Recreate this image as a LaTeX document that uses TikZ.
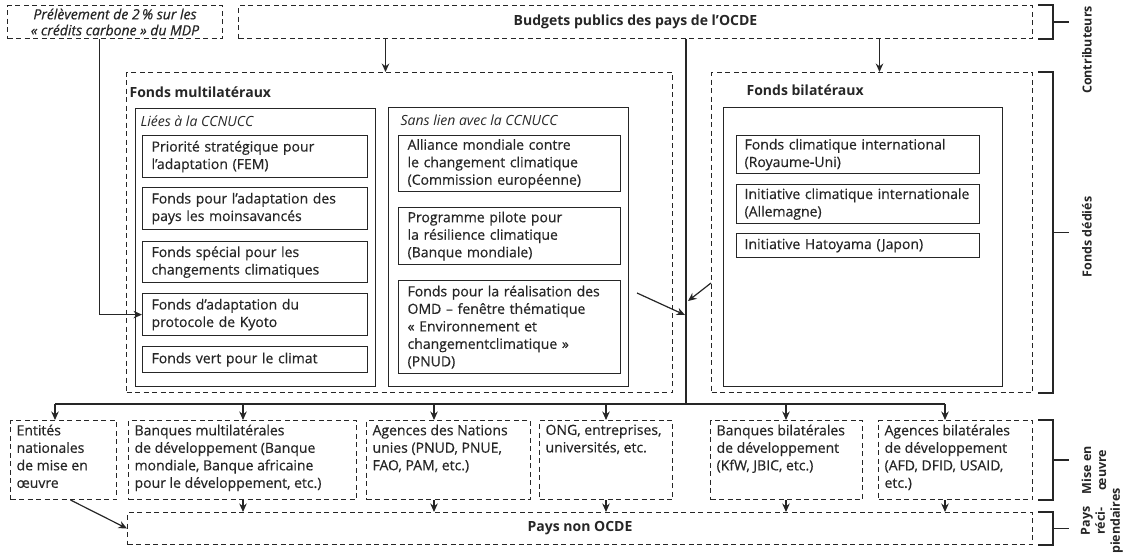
\documentclass[tikz,border=0pt]{standalone}
\usepackage{fontspec}
\setmainfont{Open Sans}
\newfontfamily\boxfont{Open Sans}[FakeBold=0.5]
\usetikzlibrary{arrows.meta}
\definecolor{ink}{HTML}{262626}

\begin{document}
\begin{tikzpicture}[x=1pt,y=-1pt,>={Stealth[length=8.5pt,width=7.5pt]},line width=1.2pt,color=ink,
  every node/.style={font=\boxfont\fontsize{14}{17.5}\selectfont},
  fund/.style={draw,anchor=north west,align=left,inner xsep=9pt,inner ysep=0pt},
  frame/.style={draw,anchor=north west,inner sep=0pt},
  dashbox/.style={frame,line width=1pt,dash pattern=on 5pt off 3.5pt},
  title/.style={anchor=west,inner sep=0pt,font=\fontsize{14}{17.5}\selectfont\bfseries},
  sub/.style={anchor=west,inner sep=0pt,font=\fontsize{14}{17.5}\selectfont\itshape},
  body/.style={anchor=north west,align=left,inner xsep=6pt,inner ysep=4pt},
  side/.style={rotate=90,align=center,inner sep=0pt,font=\fontsize{12.5}{15}\selectfont\bfseries}]
  \useasboundingbox (0,0) rectangle (1129,555);

  % contributeurs
  \node[dashbox,minimum width=215pt,minimum height=33pt,align=center,font=\boxfont\fontsize{14}{16}\selectfont\itshape] (mdp) at (7,5)
    {Prélèvement de 2\,\% sur les\\«~crédits carbone~» du MDP};
  \node[dashbox,minimum width=794pt,minimum height=33pt,font=\fontsize{14}{17.5}\selectfont\bfseries] (budgets) at (238,5)
    {Budgets publics des pays de l’OCDE};

  % fonds multilateraux
  \node[dashbox,minimum width=546pt,minimum height=320pt] (multi) at (126,72) {};
  \node[title] (multi-t) at (129,92) {Fonds multilatéraux};
  \node[frame,minimum width=240pt,minimum height=278pt] (liees) at (135,108) {};
  \node[sub] (liees-t) at (140,121) {Liées à la CCNUCC};
  \node[fund,text width=207pt,minimum height=42pt] (l1) at (142,135) {Priorité stratégique pour\\l’adaptation (FEM)};
  \node[fund,text width=207pt,minimum height=42pt] (l2) at (142,187) {Fonds pour l’adaptation des\\pays les moinsavancés};
  \node[fund,text width=207pt,minimum height=41pt] (l3) at (142,241) {Fonds spécial pour les\\changements climatiques};
  \node[fund,text width=207pt,minimum height=42pt] (l4) at (142,293) {Fonds d’adaptation du\\protocole de Kyoto};
  \node[fund,text width=207pt,minimum height=26pt] (l5) at (142,346) {Fonds vert pour le climat};
  \node[frame,minimum width=240pt,minimum height=279pt] (sans) at (388,107) {};
  \node[sub] (sans-t) at (400,120) {Sans lien avec la CCNUCC};
  \node[fund,text width=204pt,minimum height=56pt] (s1) at (398,135) {Alliance mondiale contre\\le changement climatique\\(Commission européenne)};
  \node[fund,text width=204pt,minimum height=57pt] (s2) at (398,207) {Programme pilote pour\\la résilience climatique\\(Banque mondiale)};
  \node[fund,text width=204pt,minimum height=93pt] (s3) at (398,280) {Fonds pour la réalisation des\\OMD – fenêtre thématique\\«~Environnement et\\changementclimatique~»\\(PNUD)};

  % fonds bilateraux
  \node[dashbox,minimum width=321pt,minimum height=320pt] (bil) at (711,72) {};
  \node[title] (bil-t) at (746,90) {Fonds bilatéraux};
  \node[frame,minimum width=279pt,minimum height=279pt] (bilin) at (723,107) {};
  \node[fund,inner xsep=8pt,text width=227pt,minimum height=38pt] (b1) at (736,135) {Fonds climatique international\\(Royaume-Uni)};
  \node[fund,inner xsep=8pt,text width=227pt,minimum height=39pt] (b2) at (736,184) {Initiative climatique internationale\\(Allemagne)};
  \node[fund,inner xsep=8pt,text width=227pt,minimum height=24pt] (b3) at (736,233) {Initiative Hatoyama (Japon)};

  % mise en oeuvre
  \node[dashbox,minimum width=106pt,minimum height=79pt] (ent) at (10,420) {};
  \node[body] (ent-t) at (ent.north west) {Entités\\nationales\\de mise en\\œuvre};
  \node[dashbox,minimum width=228pt,minimum height=79pt] (bmd) at (128,420) {};
  \node[body] (bmd-t) at (bmd.north west) {Banques multilatérales\\de développement (Banque\\mondiale, Banque africaine\\pour le développement, etc.)};
  \node[dashbox,minimum width=164pt,minimum height=79pt] (anu) at (366,420) {};
  \node[body] (anu-t) at (anu.north west) {Agences des Nations\\unies (PNUD, PNUE,\\FAO, PAM, etc.)};
  \node[dashbox,minimum width=133pt,minimum height=79pt] (ong) at (539,420) {};
  \node[body] (ong-t) at (ong.north west) {ONG, entreprises,\\universités, etc.};
  \node[dashbox,minimum width=152pt,minimum height=79pt] (bbd) at (710,420) {};
  \node[body] (bbd-t) at (bbd.north west) {Banques bilatérales\\de développement\\(KfW, JBIC, etc.)};
  \node[dashbox,minimum width=154pt,minimum height=79pt] (abd) at (878,420) {};
  \node[body] (abd-t) at (abd.north west) {Agences bilatérales\\de développement\\(AFD, DFID, USAID,\\etc.)};
  \node[dashbox,minimum width=905pt,minimum height=32pt,font=\fontsize{14}{17.5}\selectfont\bfseries] (pays) at (127,512) {Pays non OCDE};

  % flux
  \coordinate (trunk) at (686,404);
  \coordinate (c1) at (55,404);
  \coordinate (c2) at (243,404);
  \coordinate (c3) at (434,404);
  \coordinate (c4) at (606,404);
  \coordinate (c5) at (786,404);
  \coordinate (c6) at (945,404);
  \coordinate (m-top) at ([xshift=-14pt]multi.north);
  \coordinate (b-top) at ([xshift=7.5pt]bil.north);
  \coordinate (mdp-out) at ([xshift=-15.5pt]mdp.south);
  \coordinate (s-out) at (637,293);
  \coordinate (t-in1) at (685,315);
  \coordinate (b-out) at (711,283);
  \coordinate (t-in2) at (688,301);

  \draw (budgets.south -| trunk) -- (trunk);
  \draw (c1) -- (c6);
  \draw[->] (budgets.south -| m-top) -- (m-top);
  \draw[->] (budgets.south -| b-top) -- (b-top);
  \draw[->] (mdp-out) |- (l4.west);
  \draw[->] (s-out) -- (t-in1);
  \draw[->] (b-out) -- (t-in2);
  \draw[->] (c1) -- (c1 |- ent.north);
  \draw[->] (c2) -- (c2 |- bmd.north);
  \draw[->] (c3) -- (c3 |- anu.north);
  \draw[->] (c4) -- (c4 |- ong.north);
  \draw[->] (c5) -- (c5 |- bbd.north);
  \draw[->] (c6) -- (c6 |- abd.north);
  \draw[->] (c2 |- bmd.south) -- (c2 |- pays.north);
  \draw[->] (c3 |- anu.south) -- (c3 |- pays.north);
  \draw[->] (c4 |- ong.south) -- (c4 |- pays.north);
  \draw[->] (c5 |- bbd.south) -- (c5 |- pays.north);
  \draw[->] (c6 |- abd.south) -- (c6 |- pays.north);
  \draw[->] ([xshift=7pt]ent.south) -- (pays.west);

  % accolades
  \draw ([xshift=5pt]budgets.north east) -| ([xshift=20pt]budgets.south east) -- ([xshift=5pt]budgets.south east);
  \draw ([xshift=20pt]budgets.east) -- ++(16,0);
  \draw ([xshift=5pt]bil.north east) -| ([xshift=20pt]bil.south east) -- ([xshift=5pt]bil.south east);
  \draw ([xshift=20pt]bil.east) -- ++(16,0);
  \draw ([xshift=5pt]abd.north east) -| ([xshift=20pt]abd.south east) -- ([xshift=5pt]abd.south east);
  \draw ([xshift=20pt]abd.east) -- ++(16,0);
  \draw ([xshift=5pt]pays.north east) -| ([xshift=20pt]pays.south east) -- ([xshift=5pt]pays.south east);
  \draw ([xshift=20pt]pays.east) -- ++(16,0);

  \node[side] (contrib) at (1087,50) {Contributeurs};
  \node[side] (dedies) at (1087,237) {Fonds dédiés};
  \node[side] (oeuvre) at (1094,470) {Mise en\\œuvre};
  \node[side] (recip) at (1102,521) {Pays\\réci-\\piendaires};
\end{tikzpicture}
\end{document}
